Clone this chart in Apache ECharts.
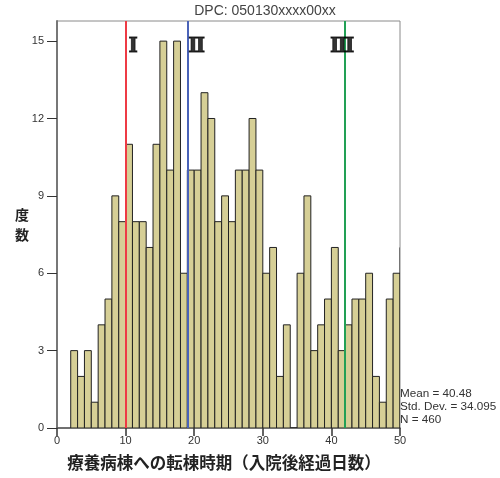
<!DOCTYPE html>
<html><head><meta charset="utf-8">
<script src="https://cdn.jsdelivr.net/npm/echarts@6/dist/echarts.min.js"></script>
<style>html,body{margin:0;padding:0;background:#fff}#c{width:500px;height:478px}</style>
</head><body><div id="c"></div>
<script>
// bins: [day, day+1)
const binStarts = [2,3,4,5,6,7,8,9,10,11,12,13,14,15,16,17,18,19,20,21,22,23,24,25,26,27,28,29,30,31,32,33,34,35,36,37,38,39,40,41,42,43,44,45,46,47,48,49,50];
const counts    = [3,2,3,1,4,5,9,8,11,8,8,7,11,15,10,15,6,10,10,13,12,8,9,8,10,10,12,10,6,7,2,4,0,6,9,3,4,5,7,3,4,5,5,6,2,1,5,6,7];
const xTicks = [0,10,20,30,40,50];
const yTicks = [0,3,6,9,12,15];
const markerDays = [10,19,42];
const markerNames = ['Ⅰ','Ⅱ','Ⅲ'];
const markerColors = ['#EE3B45','#4A63B8','#22A055'];
const title = 'DPC: 050130xxxx00xx';
const xName = '療養病棟への転棟時期（入院後経過日数）';
const yName = '度\n数';
const stats = ['Mean = 40.48','Std. Dev. = 34.095','N = 460'];

const chart = echarts.init(document.getElementById('c'), null, {renderer:'canvas'});
const data = binStarts.map((d,i)=>[d, d+1, counts[i]]);
const markerLabelOffsets = [[3,6],[1,6],[-3,6]];
const markerLabelAligns = ['left','left','center'];

chart.setOption({
  animation:false,
  grid:{left:57,right:100,top:21,bottom:50,show:true,borderColor:'#8a8a8a',borderWidth:1,backgroundColor:'#fff'},
  xAxis:{type:'value',min:0,max:50,interval:10,
    axisLine:{show:true,lineStyle:{color:'#555',width:1.5}},
    axisTick:{show:true,length:8,lineStyle:{color:'#333',width:1.5}},
    axisLabel:{color:'#333',fontSize:11,fontFamily:'Liberation Sans, Arial',margin:7},
    splitLine:{show:false}},
  yAxis:{type:'value',min:0,max:15.78,interval:3,
    axisLine:{show:true,lineStyle:{color:'#777',width:2}},
    axisTick:{show:true,length:10,lineStyle:{color:'#333',width:1}},
    axisLabel:{color:'#333',fontSize:11,fontFamily:'Liberation Sans, Arial',margin:13,showMaxLabel:false},
    splitLine:{show:false}},
  series:[
    {type:'custom',clip:true,data:data,
     renderItem:function(params,api){
       const p0=api.coord([api.value(0),api.value(2)]);
       const p1=api.coord([api.value(1),0]);
       return {type:'rect',shape:{x:p0[0],y:p0[1],width:p1[0]-p0[0],height:p1[1]-p0[1]},
         style:{fill:'#D6CF96',stroke:'#222',lineWidth:1}};
     },
     encode:{x:[0,1],y:2},
     z:2},
    {type:'line',data:[],z:5,
     markLine:{silent:true,symbol:['none','none'],animation:false,
       label:{show:false},
       data:markerDays.map((d,i)=>({xAxis:d,lineStyle:{color:markerColors[i],width:2,type:'solid'}}))}},
    {type:'scatter',symbolSize:0,z:6,
     data:markerDays.map((d,i)=>({value:[d,15],label:{show:true,formatter:markerNames[i],position:'inside',
        align:markerLabelAligns[i],verticalAlign:'middle',offset:markerLabelOffsets[i],
        fontFamily:'DejaVu Serif, Liberation Serif, serif',fontWeight:'bold',fontSize:20,color:'#000',
        textBorderColor:'#000',textBorderWidth:0.8}}))}
  ],
  graphic:[
    {type:'text',style:{text:title,x:265,y:11,textAlign:'center',textVerticalAlign:'middle',
      font:'14px "Liberation Sans", Arial',fill:'#444'}},
    {type:'text',style:{text:xName,x:224,y:463,textAlign:'center',textVerticalAlign:'middle',
      font:'bold 16.5px "Noto Sans CJK JP"',fill:'#222'}},
    {type:'text',style:{text:yName,x:22,y:225,textAlign:'center',textVerticalAlign:'middle',
      font:'bold 14px "Noto Sans CJK JP"',lineHeight:20,fill:'#222'}},
    {type:'text',style:{text:stats.join('\n'),x:400,y:387,textAlign:'left',textVerticalAlign:'top',
      font:'11.7px "Liberation Sans", Arial',lineHeight:13,fill:'#333'}}
  ]
});
</script></body></html>
